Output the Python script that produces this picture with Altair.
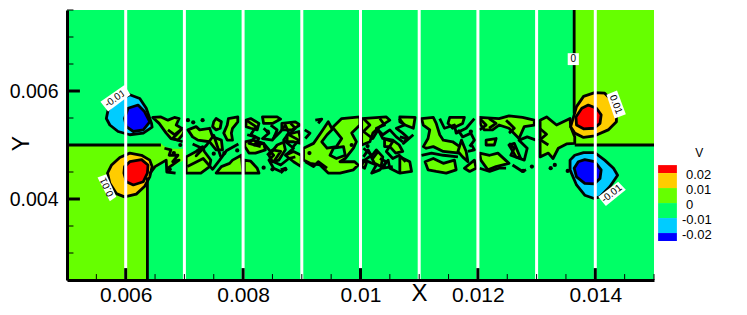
import altair as alt
import pandas as pd

FONT = "Liberation Sans"
BLACK = "#000000"
GREEN, LIME, ORANGE, RED, CYAN, BLUE = "#00FF66", "#66FF00", "#FFCC00", "#FF0000", "#00CCFF", "#0000FF"

# All coordinates below are in thousandths of the axis units.
lime_regions = [
    ([5, 6.6, 6.66, 6.8, 7.0, 7.0, 6.89, 6.8, 6.71, 6.68, 6.41, 6.37, 6.37, 5],
     [5, 5.03, 4.97, 4.93, 4.93, 4.72, 4.66, 4.6, 4.56, 4.72, 4.47, 4.4, 2.5, 2.5]),
    ([13.64, 15, 15, 13.64], [7.5, 7.5, 5.0, 5.0]),
]
lime_blobs = [
    ([6.46, 6.6, 6.72, 6.83, 6.91, 6.86, 7.0, 6.97, 6.89, 6.77, 6.69, 6.57],
     [5.51, 5.52, 5.46, 5.51, 5.49, 5.37, 5.28, 5.19, 5.09, 5.12, 5.22, 5.4]),
    ([7.54, 7.63, 7.61, 7.54, 7.48, 7.5], [5.49, 5.43, 5.31, 5.28, 5.34, 5.43]),
    ([7.75, 7.91, 7.91, 7.82, 7.8, 7.82, 7.73, 7.67, 7.73], [5.49, 5.52, 5.43, 5.31, 5.22, 5.09, 5.09, 5.22, 5.37]),
    ([7.06, 7.2, 7.26, 7.43, 7.48, 7.63, 7.65, 7.54, 7.43, 7.23, 7.14], [5.28, 5.34, 5.28, 5.31, 5.15, 5.09, 4.91, 4.91, 5.06, 5.09, 5.15]),
    ([7.03, 7.2, 7.31, 7.34, 7.45, 7.43, 7.28, 7.03], [4.78, 4.88, 4.97, 4.88, 4.72, 4.6, 4.48, 4.48]),
    ([7.54, 7.63, 7.77, 7.82, 7.97, 8.0], [4.48, 4.6, 4.66, 4.72, 4.81, 4.48]),
    ([8.33, 8.58, 8.64, 8.5, 8.35], [5.52, 5.52, 5.48, 5.4, 5.4]),
    ([8.05, 8.13, 8.27, 8.24, 8.13, 8.05], [5.46, 5.49, 5.4, 5.28, 5.31, 5.34]),
    ([8.03, 8.16, 8.35, 8.38, 8.21, 8.1, 8.03], [5.06, 5.09, 5.03, 4.91, 4.85, 4.85, 4.97]),
    ([8.58, 8.69, 8.72, 8.61, 8.5, 8.44], [5.0, 5.05, 4.91, 4.72, 4.69, 4.81]),
    ([8.75, 8.95, 8.99, 8.86, 8.75], [5.19, 5.25, 5.03, 5.06, 5.06]),
    ([8.72, 8.86, 8.99, 8.99, 8.86], [4.81, 4.88, 4.81, 4.6, 4.69]),
    ([8.66, 8.89, 8.97, 8.83, 8.66], [5.4, 5.43, 5.37, 5.28, 5.28]),
    ([8.02, 8.13, 8.24, 8.27, 8.02], [4.72, 4.7, 4.57, 4.48, 4.48]),
    ([9.03, 9.2, 9.34, 9.45, 9.51, 9.68, 9.99, 9.99, 9.85, 9.93, 9.88, 9.74, 9.65, 9.9, 9.96, 9.88, 9.65, 9.45, 9.31, 9.14, 9.03],
     [4.94, 5.03, 5.25, 5.43, 5.31, 5.49, 5.52, 5.37, 5.22, 5.06, 4.94, 4.75, 4.69, 4.69, 4.63, 4.54, 4.48, 4.48, 4.63, 4.66, 4.72]),
    ([10.02, 10.44, 10.5, 10.33, 10.21, 10.16, 10.02], [5.49, 5.52, 5.46, 5.34, 5.22, 5.06, 5.0]),
    ([10.41, 10.55, 10.66, 10.72, 10.6, 10.5, 10.41], [5.12, 5.09, 5.0, 4.88, 4.85, 4.97, 4.97]),
    ([10.27, 10.38, 10.35, 10.24, 10.18], [4.91, 4.78, 4.6, 4.66, 4.78]),
    ([10.05, 10.1, 10.07, 10.02], [4.72, 4.66, 4.57, 4.6]),
    ([10.67, 10.93, 10.9, 10.76, 10.67], [5.52, 5.51, 5.31, 5.37, 5.43]),
    ([10.67, 10.84, 10.87, 10.67], [4.78, 4.69, 4.51, 4.48]),
    ([11.04, 11.24, 11.29, 11.35, 11.41, 11.57, 11.69, 11.69, 11.41, 11.24, 11.12, 11.07, 11.15, 11.18, 11.07],
     [5.49, 5.51, 5.4, 5.19, 5.09, 5.06, 4.97, 4.85, 4.88, 4.97, 4.94, 4.97, 5.12, 5.28, 5.37]),
    ([11.52, 11.77, 11.74, 11.57, 11.49], [5.51, 5.51, 5.4, 5.31, 5.4]),
    ([11.1, 11.24, 11.41, 11.6, 11.63, 11.46, 11.29, 11.15], [4.69, 4.75, 4.66, 4.72, 4.54, 4.48, 4.51, 4.54]),
    ([11.72, 11.8, 11.83, 11.74, 11.66], [5.09, 4.88, 4.69, 4.78, 4.88]),
    ([11.77, 11.94, 11.97, 11.86], [4.57, 4.72, 4.57, 4.51]),
    ([12.02, 12.36, 12.53, 12.76, 12.96, 12.96, 12.79, 12.7, 12.53, 12.36, 12.25, 12.11, 12.05],
     [5.51, 5.49, 5.54, 5.51, 5.46, 5.37, 5.34, 5.12, 5.31, 5.37, 5.28, 5.28, 5.37]),
    ([12.03, 12.2, 12.34, 12.53, 12.31, 12.17, 12.05], [4.85, 4.81, 4.85, 4.66, 4.6, 4.54, 4.72]),
    ([12.53, 12.62, 12.73, 12.65], [5.0, 5.03, 4.75, 4.78]),
    ([12.14, 12.31, 12.28, 12.14], [5.09, 5.12, 5.0, 5.0]),
    ([13.06, 13.17, 13.34, 13.57, 13.58, 13.65, 13.65, 13.51, 13.37, 13.28, 13.2, 13.06, 13.06],
     [5.46, 5.52, 5.37, 5.49, 5.34, 5.15, 5.03, 5.02, 4.94, 4.75, 4.85, 4.78, 4.97]),
]
green_holes = [
    ([9.43, 9.54, 9.68, 9.59, 9.43, 9.34], [5.19, 5.31, 5.12, 4.97, 4.94, 5.06]),
    ([9.54, 9.71, 9.74, 9.59, 9.48], [4.94, 4.97, 4.81, 4.75, 4.81]),
]
cyan_blobs = [
    ([6.07, 6.24, 6.35, 6.44, 6.45, 6.3, 6.07, 5.87, 5.73, 5.67, 5.7, 5.87],
     [5.93, 5.86, 5.68, 5.4, 5.33, 5.22, 5.19, 5.25, 5.37, 5.49, 5.65, 5.83]),
    ([13.8, 13.99, 14.16, 14.31, 14.38, 14.25, 14.08, 13.98, 13.82, 13.68, 13.57, 13.57, 13.65],
     [4.86, 4.86, 4.72, 4.57, 4.44, 4.23, 4.04, 4.01, 4.07, 4.26, 4.54, 4.72, 4.81]),
]
blue_blobs = [
    ([6.04, 6.21, 6.32, 6.41, 6.3, 6.13, 6.01, 5.98], [5.68, 5.74, 5.62, 5.43, 5.28, 5.25, 5.34, 5.49]),
    ([13.82, 13.99, 14.1, 14.08, 13.98, 13.82, 13.68, 13.64, 13.71], [4.73, 4.69, 4.54, 4.38, 4.28, 4.29, 4.41, 4.57, 4.69]),
]
orange_blobs = [
    ([6.07, 6.27, 6.41, 6.45, 6.41, 6.32, 6.18, 5.98, 5.84, 5.73, 5.69, 5.76, 5.9],
     [4.85, 4.81, 4.72, 4.6, 4.41, 4.23, 4.09, 4.04, 4.1, 4.29, 4.48, 4.63, 4.77]),
    ([13.99, 14.16, 14.28, 14.36, 14.36, 14.22, 13.99, 13.8, 13.65, 13.58, 13.63, 13.68, 13.8],
     [5.97, 5.96, 5.83, 5.56, 5.43, 5.28, 5.17, 5.14, 5.22, 5.34, 5.52, 5.71, 5.9]),
]
red_blobs = [
    ([6.07, 6.27, 6.38, 6.37, 6.3, 6.13, 6.01, 5.97, 5.98], [4.69, 4.73, 4.63, 4.48, 4.32, 4.26, 4.32, 4.48, 4.6]),
    ([13.88, 14.02, 14.1, 14.08, 13.98, 13.8, 13.68, 13.67, 13.77], [5.74, 5.68, 5.56, 5.4, 5.31, 5.3, 5.37, 5.52, 5.68]),
]
contour_paths = [
    ([5, 6.6], [5.0, 5.0]),
    ([6.37, 6.37], [2.5, 4.4]),
    ([13.64, 13.64], [7.5, 5.58]),
    ([13.65, 15], [5.0, 5.0]),
    ([6.41, 6.5, 6.69, 6.7, 6.85], [4.47, 4.6, 4.72, 4.5, 4.48]),
    ([6.66, 6.77, 6.74, 6.89, 6.8, 6.91, 6.72], [4.94, 4.91, 4.81, 4.81, 4.69, 4.72, 4.57]),
    ([6.72, 6.83, 6.97, 6.8, 6.97], [5.28, 5.19, 5.31, 5.12, 5.06]),
    ([8.05, 8.22, 8.13, 8.27, 8.19, 8.35, 8.52, 8.44, 8.52, 8.64], [5.46, 5.34, 5.19, 5.12, 5.0, 5.03, 4.81, 4.72, 4.57, 4.51]),
    ([8.47, 8.58, 8.52, 8.64, 8.72, 8.78, 8.69, 8.86, 8.72], [5.37, 5.28, 5.12, 5.25, 5.37, 5.22, 5.09, 4.94, 4.81]),
    ([9.05, 9.14, 9.06], [5.28, 5.22, 5.12]),
    ([9.23, 9.34, 9.28], [5.46, 5.48, 5.4]),
    ([9.06, 9.2, 9.28, 9.43], [4.69, 4.6, 4.69, 4.57]),
    ([10.05, 10.16, 10.05, 10.21, 10.3, 10.38, 10.55, 10.44, 10.55, 10.66, 10.77],
     [5.49, 5.37, 5.25, 5.12, 5.28, 5.12, 5.06, 4.88, 4.75, 4.81, 4.69]),
    ([10.66, 10.75, 10.61, 10.72, 10.82], [5.49, 5.37, 5.31, 5.22, 5.12]),
    ([10.05, 10.19, 10.07, 10.27, 10.19, 10.33, 10.47, 10.5, 10.66], [4.94, 4.81, 4.72, 4.63, 4.48, 4.54, 4.72, 4.57, 4.48]),
    ([11.35, 11.43, 11.6, 11.63, 11.8, 11.94], [5.49, 5.31, 5.37, 5.22, 5.31, 5.49]),
    ([11.04, 11.21, 11.41, 11.66], [4.81, 4.85, 4.81, 4.78]),
    ([11.88, 11.94, 11.83], [5.03, 4.91, 4.88]),
    ([12.53, 12.62, 12.56, 12.79, 12.84, 12.7, 12.84, 12.99], [5.03, 4.94, 4.81, 4.72, 4.94, 5.09, 5.15, 5.09]),
    ([12.03, 12.2, 12.36, 12.48], [4.57, 4.51, 4.57, 4.57]),
    ([12.59, 12.76, 12.82], [4.63, 4.51, 4.54]),
    ([10.67, 10.79, 10.73, 10.9], [5.15, 5.12, 5.03, 5.19]),
    ([7.14, 7.3, 7.2, 7.38, 7.5, 7.62], [5.02, 4.94, 4.8, 5.0, 5.18, 4.78]),
    ([7.05, 7.32, 7.48, 7.6, 7.72, 7.92], [4.6, 4.75, 4.55, 4.72, 4.9, 5.02]),
    ([8.35, 8.44, 8.33, 8.5, 8.55], [5.31, 5.22, 5.12, 5.09, 5.19]),
    ([8.07, 8.21, 8.1, 8.3], [5.19, 5.15, 5.03, 4.97]),
    ([8.41, 8.5, 8.64, 8.52, 8.64, 8.78, 8.89], [4.81, 4.91, 4.88, 4.69, 4.63, 4.75, 4.78]),
    ([8.64, 8.72, 8.64], [4.54, 4.57, 4.48]),
    ([8.81, 8.89, 8.78, 8.95, 8.83], [5.4, 5.31, 5.19, 5.09, 4.94]),
    ([10.05, 10.13, 10.21, 10.3], [4.78, 4.91, 4.75, 4.88]),
    ([10.33, 10.41, 10.27, 10.38, 10.5, 10.61, 10.72], [5.49, 5.37, 5.31, 5.19, 5.28, 5.15, 5.06]),
    ([10.33, 10.44, 10.38, 10.55], [4.75, 4.69, 4.57, 4.6]),
    ([11.66, 11.74, 11.88, 11.94, 11.86], [5.28, 5.15, 5.22, 5.09, 4.97]),
    ([12.03, 12.14, 12.03], [5.49, 5.37, 5.28]),
    ([12.19, 12.31, 12.19], [5.49, 5.4, 5.31]),
    ([12.48, 12.62, 12.53], [5.46, 5.31, 5.22]),
    ([13.06, 13.17, 13.06, 13.2], [5.3, 5.2, 5.1, 5.0]),
]
dots_x = [7.68, 7.06, 7.15, 7.31, 9.13, 13.24, 13.31, 13.53, 12.77, 8.5, 8.35, 7.9, 6.75, 8.72, 7.5,
          6.82, 6.93, 8.42, 9.85, 10.12, 11.88, 12.92]
dots_y = [4.85, 5.46, 5.42, 5.46, 4.85, 4.57, 4.63, 4.52, 4.52, 4.55, 4.58, 4.9, 4.55, 4.55, 4.84,
          4.85, 5.0, 5.25, 5.0, 4.98, 5.25, 4.6]
label_boxes = [
    ([5.57, 5.98, 6.08, 5.7], [5.8, 6.11, 5.93, 5.62]),
    ([5.52, 5.67, 5.84, 5.73], [4.4, 4.46, 4.04, 3.96]),
    ([14.19, 14.37, 14.52, 14.33], [5.93, 6.01, 5.57, 5.49]),
    ([14.05, 14.39, 14.52, 14.18], [4.04, 4.32, 4.17, 3.87]),
    ([13.53, 13.72, 13.72, 13.53], [6.7, 6.7, 6.48, 6.48]),
]
label_text = ["-0.01", "0.01", "0.01", "-0.01", "0"]
label_x = [5.82, 5.68, 14.35, 14.28, 13.625]
label_y = [5.86, 4.22, 5.75, 4.1, 6.59]
label_angle = [325, 245, 68, 322, 0]

white_lines = [6, 7, 8, 9, 10, 11, 12, 13, 14]
x_major = [6, 8, 10, 12, 14]
x_minor = [5.5, 6.5, 7, 7.5, 8.5, 9, 9.5, 10.5, 11, 11.5, 12.5, 13, 13.5, 14.5, 15]
y_major = [4, 6]
y_minor = [2.5, 3, 3.5, 4.5, 5, 5.5, 6.5, 7, 7.5]
x_tick_values = [0.006, 0.008, 0.01, 0.012, 0.014]
y_tick_values = [0.004, 0.006]

legend_top = [0.0253, 0.02, 0.01, 0.0, -0.01, -0.02]
legend_bottom = [0.02, 0.01, 0.0, -0.01, -0.02, -0.0253]
legend_colors = [RED, ORANGE, LIME, GREEN, CYAN, BLUE]
legend_levels = [0.02, 0.01, 0.0]
legend_neg_levels = [-0.01, -0.02]
legend_labels = ["0.02", "0.01", "0"]
legend_neg_labels = ["-0.01", "-0.02"]

U = 0.001
X_SCALE = alt.Scale(domain=[0.005, 0.015], nice=False, zero=False)
Y_SCALE = alt.Scale(domain=[0.0025, 0.0075], nice=False, zero=False)
LEG_Y = alt.Scale(domain=[-0.0513, 0.1287], nice=False, zero=False)


def poly_frame(polys):
    rows = []
    for pid, (xs, ys) in enumerate(polys):
        for seq, (a, b) in enumerate(zip(xs, ys)):
            rows.append({"x": a * U, "y": b * U, "id": pid, "seq": seq})
    return pd.DataFrame(rows)


def enc(chart):
    return chart.encode(
        x=alt.X("x:Q", scale=X_SCALE, axis=None),
        y=alt.Y("y:Q", scale=Y_SCALE, axis=None),
        detail="id:N",
        order="seq:Q",
    )


def polys(data, fill, stroke=BLACK, width=2.8):
    kw = {"stroke": stroke, "strokeWidth": width} if stroke else {"strokeWidth": 0, "stroke": fill}
    return enc(alt.Chart(poly_frame(data)).mark_line(
        fill=fill, interpolate="linear-closed", clip=True, strokeJoin="round", **kw))


base = alt.Chart(pd.DataFrame({"x": [0.005], "x2": [0.015], "y": [0.0025], "y2": [0.0075]})).mark_rect(color=GREEN).encode(
    x=alt.X("x:Q", scale=X_SCALE, title="X", axis=alt.Axis(
        values=x_tick_values, format="~g", ticks=False, grid=False, domainColor=BLACK, domainWidth=3,
        labelFont=FONT, labelFontSize=21, labelColor=BLACK, labelPadding=4, labelFlush=False,
        titleFont=FONT, titleFontSize=24, titleFontWeight="normal", titleColor=BLACK,
        titleX=352, titleY=13, titleBaseline="middle", zindex=1)),
    x2="x2:Q",
    y=alt.Y("y:Q", scale=Y_SCALE, title="Y", axis=alt.Axis(
        values=y_tick_values, format="~g", ticks=False, grid=False, domainColor=BLACK, domainWidth=3,
        labelFont=FONT, labelFontSize=19.5, labelColor=BLACK, labelPadding=9, labelFlush=False,
        titleFont=FONT, titleFontSize=23, titleFontWeight="normal", titleColor=BLACK,
        titleX=-46, titleY=133, titleBaseline="middle", titleAngle=270, zindex=1)),
    y2="y2:Q",
)

paths = enc(alt.Chart(poly_frame(contour_paths)).mark_line(color=BLACK, strokeWidth=2.8, clip=True, strokeJoin="round"))
dots = alt.Chart(pd.DataFrame({"x": [v * U for v in dots_x], "y": [v * U for v in dots_y]})).mark_circle(
    color=BLACK, size=18, opacity=1).encode(
    x=alt.X("x:Q", scale=X_SCALE, axis=None), y=alt.Y("y:Q", scale=Y_SCALE, axis=None))


def rules(vals, horizontal, lo, hi, color, width):
    df = pd.DataFrame({"v": [v * U for v in vals], "lo": lo * U, "hi": hi * U})
    m = alt.Chart(df).mark_rule(color=color, strokeWidth=width)
    if horizontal:
        return m.encode(y=alt.Y("v:Q", scale=Y_SCALE, axis=None),
                        x=alt.X("lo:Q", scale=X_SCALE, axis=None), x2="hi:Q")
    return m.encode(x=alt.X("v:Q", scale=X_SCALE, axis=None),
                    y=alt.Y("lo:Q", scale=Y_SCALE, axis=None), y2="hi:Q")


white = rules(white_lines, False, 2.5, 7.5, "#FFFFFF", 3)
box_layer = polys(label_boxes, "#FFFFFF", stroke=None)
text_df = pd.DataFrame({"x": [v * U for v in label_x], "y": [v * U for v in label_y],
                        "t": label_text, "a": label_angle})
text_layers = [
    alt.Chart(text_df.iloc[[i]]).mark_text(font=FONT, fontSize=10, color=BLACK, angle=int(label_angle[i]),
                                           baseline="middle", align="center").encode(
        x=alt.X("x:Q", scale=X_SCALE, axis=None), y=alt.Y("y:Q", scale=Y_SCALE, axis=None), text="t:N")
    for i in range(len(label_text))
]

main = alt.layer(
    base,
    polys(lime_regions, LIME, stroke=None),
    polys(lime_blobs, LIME),
    polys(green_holes, GREEN),
    polys(cyan_blobs, CYAN),
    polys(orange_blobs, ORANGE),
    polys(blue_blobs, BLUE),
    polys(red_blobs, RED),
    paths,
    dots,
    box_layer,
    *text_layers,
    white,
    rules(x_major, False, 2.5, 2.72, BLACK, 3),
    rules(x_minor, False, 2.5, 2.61, BLACK, 1),
    rules(y_major, True, 5.0, 5.22, BLACK, 3),
    rules(y_minor, True, 5.0, 5.11, BLACK, 1),
).resolve_axis(x="independent", y="independent")

leg_df = pd.DataFrame({"top": legend_top, "bottom": legend_bottom, "c": legend_colors,
                       "x": 0.01507, "x2": 0.01539})
legend_boxes = alt.Chart(leg_df).mark_rect().encode(
    x=alt.X("x:Q", scale=X_SCALE, axis=None), x2="x2:Q",
    y=alt.Y("top:Q", scale=LEG_Y, axis=None), y2="bottom:Q",
    color=alt.Color("c:N", scale=None, legend=None),
)


def leg_text(levels, labels, x_pos):
    df = pd.DataFrame({"v": levels, "t": labels, "x": x_pos})
    return alt.Chart(df).mark_text(font=FONT, fontSize=13, color=BLACK, align="left", baseline="middle", dy=2).encode(
        x=alt.X("x:Q", scale=X_SCALE, axis=None), y=alt.Y("v:Q", scale=LEG_Y, axis=None), text="t:N")


legend_title = alt.Chart(pd.DataFrame({"v": [0.0333], "t": ["V"], "x": [0.01577]})).mark_text(
    font=FONT, fontSize=12, color=BLACK, align="center", baseline="middle").encode(
    x=alt.X("x:Q", scale=X_SCALE, axis=None), y=alt.Y("v:Q", scale=LEG_Y, axis=None), text="t:N")

legend = alt.layer(legend_boxes, leg_text(legend_levels, legend_labels, 0.015545),
                   leg_text(legend_neg_levels, legend_neg_labels, 0.015477), legend_title
                   ).resolve_axis(x="independent", y="independent")

chart = alt.layer(main, legend).resolve_scale(y="independent").resolve_axis(x="independent", y="independent").properties(
    width=587, height=270,
    padding={"left": 59, "top": 2, "right": 85, "bottom": 27},
    autosize=alt.AutoSizeParams(type="none"),
).configure_view(stroke=None)

chart.save("out.html", embed_options={"renderer": "svg", "actions": False})
